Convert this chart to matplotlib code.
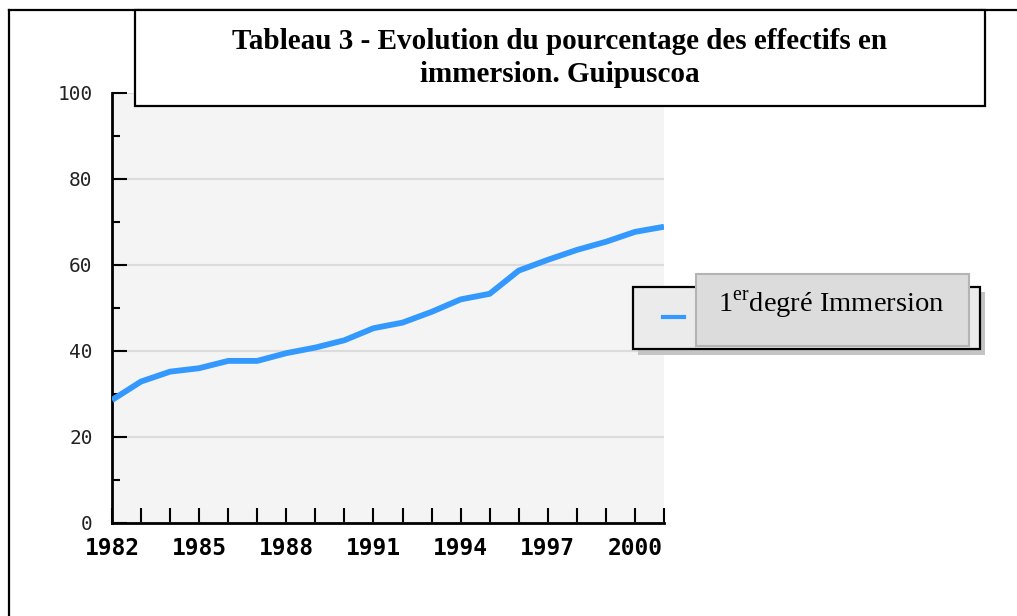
import matplotlib
matplotlib.use('Agg')
import matplotlib.pyplot as plt
from matplotlib.patches import Rectangle
from matplotlib.lines import Line2D
from matplotlib.ticker import MultipleLocator, FuncFormatter

plt.rcParams['mathtext.fontset'] = 'custom'
plt.rcParams['mathtext.rm'] = 'Liberation Serif'

# data
years = [1982, 1983, 1984, 1985, 1986, 1987, 1988, 1989, 1990, 1991,
         1992, 1993, 1994, 1995, 1996, 1997, 1998, 1999, 2000, 2001]
immersion = [28.6, 32.9, 35.2, 36.0, 37.7, 37.7, 39.5, 40.8, 42.5, 45.3,
             46.6, 49.1, 52.0, 53.3, 58.7, 61.2, 63.5, 65.4, 67.7, 68.9]
title_lines = ['Tableau 3 - Evolution du pourcentage des effectifs en',
               'immersion. Guipuscoa']
legend_label = '1$^{\\mathrm{er}}$degré Immersion'

W, H = 1017, 616
fig = plt.figure(figsize=(W / 100, H / 100), dpi=100)


def fx(px):
    return px / W


def fy(py):
    return 1 - py / H


# plot area
ax = fig.add_axes([fx(112), fy(523), fx(664) - fx(112), fy(93) - fy(523)])
ax.set_facecolor('#f4f4f4')
ax.plot(years, immersion, color='#3399ff', lw=4.2, solid_capstyle='butt', zorder=3)
ax.set_xlim(1982, 2001)
ax.set_ylim(0, 100)

ax.xaxis.set_major_locator(MultipleLocator(1))
ax.xaxis.set_major_formatter(FuncFormatter(lambda v, p: str(int(round(v))) if (round(v) - 1982) % 3 == 0 else ''))
ax.yaxis.set_major_locator(MultipleLocator(20))
ax.yaxis.set_minor_locator(MultipleLocator(10))
ax.grid(axis='y', which='major', color='#dcdcdc', lw=1.5, zorder=1)
ax.set_axisbelow(True)

ax.tick_params(axis='x', direction='in', length=11, width=1.5, pad=10)
ax.tick_params(axis='y', which='major', direction='in', length=11, width=1.5, pad=14)
ax.tick_params(axis='y', which='minor', direction='in', length=6, width=1.5)
for lab in ax.get_xticklabels():
    lab.set_fontfamily('DejaVu Sans Mono')
    lab.set_fontweight('bold')
    lab.set_fontsize(16.5)
for lab in ax.get_yticklabels():
    lab.set_fontfamily('DejaVu Sans Mono')
    lab.set_fontsize(14)
    lab.set_color('#222222')

for s in ['top', 'right']:
    ax.spines[s].set_visible(False)
for s in ['left', 'bottom']:
    ax.spines[s].set_linewidth(2)

# outer frame (left and top edges)
fig.add_artist(Line2D([fx(9), fx(9)], [fy(10), 0], color='black', lw=1.6))
fig.add_artist(Line2D([fx(9), 1], [fy(10), fy(10)], color='black', lw=1.6))

# title box
fig.add_artist(Rectangle((fx(135), fy(106)), fx(985) - fx(135), fy(10) - fy(106),
                         facecolor='white', edgecolor='black', lw=1.6, zorder=5))
fig.text(fx(560), fy(49), title_lines[0], ha='center', va='baseline',
         family='Liberation Serif', weight='bold', fontsize=21, zorder=6)
fig.text(fx(560), fy(82), title_lines[1], ha='center', va='baseline',
         family='Liberation Serif', weight='bold', fontsize=21, zorder=6)

# legend box
fig.add_artist(Rectangle((fx(638), fy(355)), fx(985) - fx(638), fy(292) - fy(355),
                         facecolor='#c4c4c4', edgecolor='none', zorder=5))
fig.add_artist(Rectangle((fx(633), fy(349)), fx(980) - fx(633), fy(287) - fy(349),
                         facecolor='#ebebeb', edgecolor='black', lw=1.6, zorder=6))
fig.add_artist(Rectangle((fx(696), fy(346)), fx(969) - fx(696), fy(274) - fy(346),
                         facecolor='#dcdcdc', edgecolor='#b4b4b4', lw=1.5, zorder=7))
fig.add_artist(Line2D([fx(663), fx(684)], [fy(317), fy(317)], color='#3399ff', lw=3, zorder=7))
fig.text(fx(718), fy(312), legend_label, ha='left', va='baseline',
         family='Liberation Serif', fontsize=20.5, zorder=8)

fig.savefig('out.png', dpi=100)
